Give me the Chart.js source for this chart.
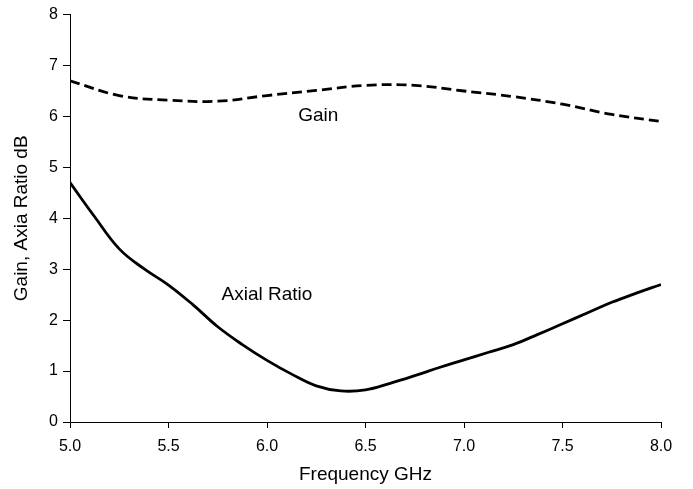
<!DOCTYPE html>
<html>
<head>
<meta charset="utf-8">
<script src="https://cdn.jsdelivr.net/npm/chart.js@4/dist/chart.umd.min.js"></script>
<style>
  html, body { margin: 0; padding: 0; background: #fff; }
  #wrap { width: 693px; height: 489px; position: relative; }
</style>
</head>
<body>
<div id="wrap"><canvas id="c" width="693" height="489"></canvas></div>
<script>
// Data
const gainFreq = [5.0, 5.25, 5.5, 5.75, 6.0, 6.25, 6.5, 6.75, 7.0, 7.25, 7.5, 7.75, 8.0];
const gainValues = [6.70, 6.41, 6.32, 6.30, 6.41, 6.51, 6.61, 6.61, 6.50, 6.39, 6.24, 6.04, 5.90];

const arFreq = [5.0, 5.125, 5.25, 5.375, 5.5, 5.625, 5.75, 5.875, 6.0, 6.125, 6.25, 6.375, 6.5,
                6.625, 6.75, 6.875, 7.0, 7.125, 7.25, 7.375, 7.5, 7.625, 7.75, 7.875, 8.0];
const arValues = [4.70, 4.03, 3.40, 3.01, 2.69, 2.30, 1.87, 1.52, 1.21, 0.94, 0.71, 0.61, 0.63,
                  0.76, 0.91, 1.07, 1.22, 1.37, 1.52, 1.72, 1.93, 2.14, 2.35, 2.53, 2.70];

const xTicks = [5.0, 5.5, 6.0, 6.5, 7.0, 7.5, 8.0];
const yTicks = [0, 1, 2, 3, 4, 5, 6, 7, 8];

const seriesLabels = ['Gain', 'Axial Ratio'];
const labelAnchors = [[6.26, 6.02], [6.0, 2.50]];

const FONT = "'Liberation Sans', Arial, Helvetica, sans-serif";

const toPts = (xs, ys) => xs.map((x, i) => ({ x: x, y: ys[i] }));

const textLabels = {
  id: 'textLabels',
  afterDatasetsDraw(chart) {
    const { ctx, scales } = chart;
    ctx.save();
    ctx.fillStyle = '#000';
    ctx.font = "19px " + FONT;
    ctx.textAlign = 'center';
    ctx.textBaseline = 'middle';
    seriesLabels.forEach((t, i) => {
      ctx.fillText(t, scales.x.getPixelForValue(labelAnchors[i][0]), scales.y.getPixelForValue(labelAnchors[i][1]));
    });
    ctx.restore();
  }
};

new Chart(document.getElementById('c'), {
  type: 'line',
  data: {
    datasets: [
      {
        label: seriesLabels[0],
        data: toPts(gainFreq, gainValues),
        borderColor: '#000',
        borderWidth: 2.8,
        borderDash: [10, 5],
        pointRadius: 0,
        fill: false,
        tension: 0.4
      },
      {
        label: seriesLabels[1],
        data: toPts(arFreq, arValues),
        borderColor: '#000',
        borderWidth: 2.8,
        pointRadius: 0,
        fill: false,
        tension: 0.4
      }
    ]
  },
  options: {
    responsive: false,
    animation: false,
    devicePixelRatio: 1,
    layout: { padding: { left: 0, right: 32, top: 10, bottom: 0 } },
    plugins: { legend: { display: false }, tooltip: { enabled: false } },
    scales: {
      x: {
        type: 'linear',
        min: 5, max: 8,
        afterFit: s => { s.height = 67; },
        afterBuildTicks: s => { s.ticks = xTicks.map(v => ({ value: v })); },
        ticks: {
          color: '#000',
          font: { family: FONT, size: 16 },
          padding: 9,
          maxRotation: 0,
          callback: v => Number(v).toFixed(1)
        },
        grid: { display: true, drawOnChartArea: false, drawTicks: true, tickLength: 6, color: '#000', lineWidth: 1 },
        border: { display: true, color: '#000', width: 1 },
        title: { display: true, text: 'Frequency GHz', color: '#000', font: { family: FONT, size: 19 }, padding: { top: 0, bottom: 3 } }
      },
      y: {
        type: 'linear',
        min: 0, max: 8,
        afterFit: s => { s.width = 70; },
        afterBuildTicks: s => { s.ticks = yTicks.map(v => ({ value: v })); },
        ticks: {
          color: '#000',
          font: { family: FONT, size: 16 },
          padding: 5,
          callback: v => String(v)
        },
        grid: { display: true, drawOnChartArea: false, drawTicks: true, tickLength: 7, color: '#000', lineWidth: 1 },
        border: { display: true, color: '#000', width: 1 },
        title: { display: true, text: 'Gain, Axia Ratio dB', color: '#000', font: { family: FONT, size: 19 }, padding: { top: 10, bottom: 0 } }
      }
    }
  },
  plugins: [textLabels]
});
</script>
</body>
</html>
